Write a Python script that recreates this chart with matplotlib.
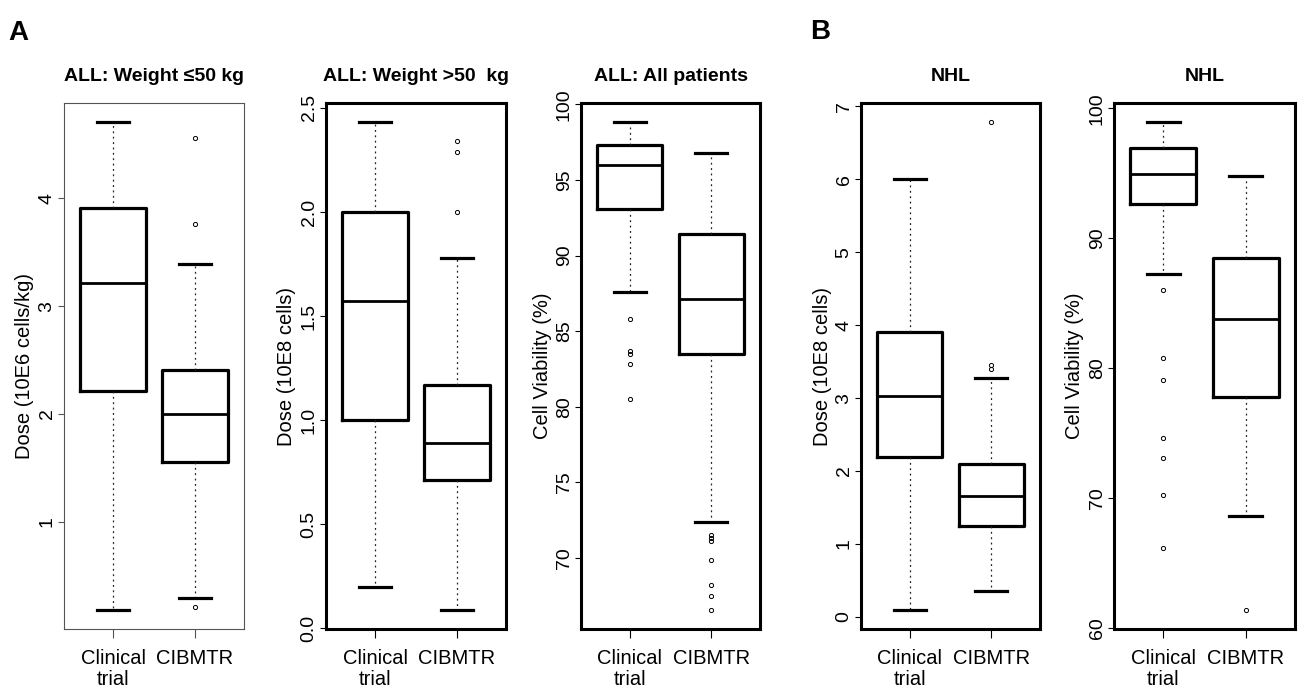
import matplotlib
matplotlib.use("Agg")
import matplotlib.pyplot as plt

plt.rcParams['font.family'] = ['Liberation Sans', 'DejaVu Sans']

groups = ["Clinical\ntrial", "CIBMTR"]
stat_keys = ["whislo", "q1", "med", "q3", "whishi"]

# five-number summaries: low whisker, Q1, median, Q3, high whisker
p1_clin = [0.19, 2.21, 3.21, 3.91, 4.70]
p1_clin_out = []
p1_cib = [0.30, 1.56, 2.00, 2.41, 3.39]
p1_cib_out = [4.56, 3.76, 0.21]

p2_clin = [0.20, 1.00, 1.57, 2.00, 2.43]
p2_clin_out = []
p2_cib = [0.09, 0.71, 0.89, 1.17, 1.78]
p2_cib_out = [2.34, 2.29, 2.00]

p3_clin = [87.6, 93.1, 96.0, 97.3, 98.8]
p3_clin_out = [85.8, 83.7, 83.5, 82.8, 80.5]
p3_cib = [72.4, 83.5, 87.1, 91.4, 96.8]
p3_cib_out = [71.5, 71.3, 71.1, 69.9, 68.2, 67.5, 66.6]

p4_clin = [0.10, 2.19, 3.03, 3.90, 6.01]
p4_clin_out = []
p4_cib = [0.36, 1.24, 1.66, 2.09, 3.28]
p4_cib_out = [6.78, 3.45, 3.40]

p5_clin = [87.2, 92.6, 94.9, 96.9, 98.9]
p5_clin_out = [86.0, 80.8, 79.1, 74.6, 73.1, 70.2, 66.1]
p5_cib = [68.6, 77.8, 83.8, 88.5, 94.8]
p5_cib_out = [61.4]

titles = ["ALL: Weight \u226450 kg", "ALL: Weight >50  kg", "ALL: All patients", "NHL", "NHL"]
ylabels = ["Dose (10E6 cells/kg)", "Dose (10E8 cells)", "Cell Viability (%)",
           "Dose (10E8 cells)", "Cell Viability (%)"]
yticks = [[1, 2, 3, 4],
          [0.0, 0.5, 1.0, 1.5, 2.0, 2.5],
          [70, 75, 80, 85, 90, 95, 100],
          [0, 1, 2, 3, 4, 5, 6, 7],
          [60, 70, 80, 90, 100]]
ytick_fmt = ["{:.0f}", "{:.1f}", "{:.0f}", "{:.0f}", "{:.0f}"]

panels = [(p1_clin, p1_clin_out, p1_cib, p1_cib_out),
          (p2_clin, p2_clin_out, p2_cib, p2_cib_out),
          (p3_clin, p3_clin_out, p3_cib, p3_cib_out),
          (p4_clin, p4_clin_out, p4_cib, p4_cib_out),
          (p5_clin, p5_clin_out, p5_cib, p5_cib_out)]

W, H = 1311, 700
fig = plt.figure(figsize=(W / 100, H / 100), dpi=100)

# axes frames in pixels: left, right
frames = [(64, 244), (326, 506), (581, 760), (861, 1040), (1114, 1295)]
top_px, bot_px = 103, 629


def make_stats(five, out, label):
    s = dict(zip(stat_keys, five))
    s["fliers"] = out
    s["label"] = label
    return s


for i, (clin, clin_out, cib, cib_out) in enumerate(panels):
    l, r = frames[i]
    ax = fig.add_axes([l / W, 1 - bot_px / H, (r - l) / W, (bot_px - top_px) / H])
    stats = [make_stats(clin, clin_out, groups[0]), make_stats(cib, cib_out, groups[1])]
    ax.bxp(stats, positions=[1, 2], widths=0.8, showfliers=True,
           boxprops=dict(color='black', linewidth=2.3),
           medianprops=dict(color='black', linewidth=2.0),
           whiskerprops=dict(color='#222222', linewidth=0.9, linestyle=(0, (1.5, 2.8))),
           capprops=dict(color='black', linewidth=2.3),
           capwidths=0.4,
           flierprops=dict(marker='o', markersize=3, markerfacecolor='none',
                           markeredgecolor='black', markeredgewidth=0.7))

    # R-style limits: data range padded by 4 %
    vals = clin + cib + clin_out + cib_out
    lo, hi = min(vals), max(vals)
    pad = (hi - lo) * 0.04
    ax.set_ylim(lo - pad, hi + pad)
    ax.set_xlim(0.4, 2.6)

    ax.set_yticks(yticks[i])
    ax.set_yticklabels([ytick_fmt[i].format(t) for t in yticks[i]], rotation=90, va='center')
    ax.set_xticks([1, 2])
    ax.set_xticklabels(groups, fontsize=14.5, linespacing=1.1)

    if i == 0:
        for sp in ax.spines.values():
            sp.set_color('#555555')
            sp.set_linewidth(0.8)
        tcol = '#555555'
    else:
        for sp in ax.spines.values():
            sp.set_color('black')
            sp.set_linewidth(2.2)
        tcol = 'black'
    ax.tick_params(axis='y', labelsize=14, length=4, width=0.8, pad=2, color=tcol)
    ax.tick_params(axis='x', length=6.5, width=0.8, pad=8, color=tcol)

    ax.set_ylabel(ylabels[i], fontsize=14.5, labelpad=3)
    ax.set_title(titles[i], fontsize=14, fontweight='bold', pad=16)

fig.text(8 / W, 1 - 40 / H, "A", fontsize=20, fontweight='bold', va='baseline')
fig.text(810 / W, 1 - 39 / H, "B", fontsize=20, fontweight='bold', va='baseline')

fig.savefig("out.png", dpi=100)
